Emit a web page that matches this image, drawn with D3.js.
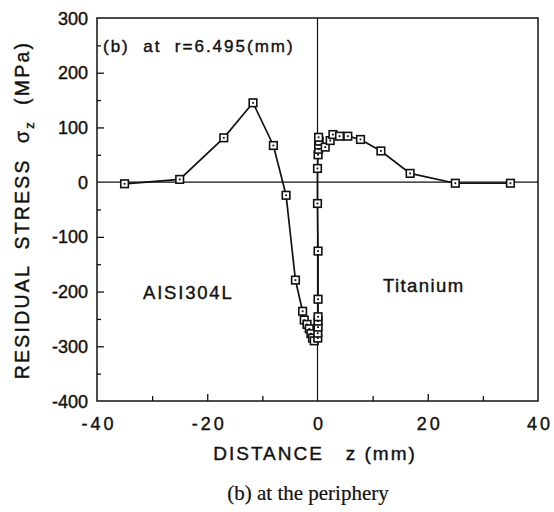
<!DOCTYPE html>
<html>
<head>
<meta charset="utf-8">
<script src="https://cdn.jsdelivr.net/npm/d3@7"></script>
<style>
  html, body { margin: 0; padding: 0; background: #fff; }
  svg { display: block; }
  text { font-family: "Liberation Sans", Arial, sans-serif; fill: #111; stroke: #111; stroke-width: 0.4px; }
</style>
</head>
<body>
<svg id="chart" width="554" height="512"></svg>
<script>
// ---- data ----
const steelZ = [-35, -25, -17, -11.7, -8, -5.7, -4, -2.7, -2.4, -1.9, -1.5, -1.2, -0.9, -0.6];
const steelS = [-3, 5, 81, 145, 67, -24, -179, -236, -252, -260, -268, -277, -285, -290];
const titaniumZ = [0.05, 0.05, 0.1, 0.1, 0.1, 0.1, 0.1, 0, 0, 0.1, 0.2, 0.2, 0.3, 0.2, 1.4, 2.3, 2.8, 4, 5.5, 7.8, 11.5, 16.8, 25, 35];
const titaniumS = [-285, -276, -265, -254, -246, -214, -126, -39, 25, 50, 60, 68, 75, 82, 64, 76, 87, 84, 84, 78, 57, 16, -2, -2];
const xTickLabels = [-40, -20, 0, 20, 40];
const xMinorTicks = [-30, -10, 10, 30];
const yTickLabels = [300, 200, 100, 0, -100, -200, -300, -400];
const yMinorTicks = [250, 150, 50, -50, -150, -250, -350];

const svg = d3.select("#chart");
const x = d3.scaleLinear().domain([-40, 40]).range([97, 538]);
const y = d3.scaleLinear().domain([-400, 300]).range([401, 18]);

// frame
svg.append("rect").attr("x", x(-40)).attr("y", y(300))
  .attr("width", x(40) - x(-40)).attr("height", y(-400) - y(300))
  .attr("fill", "none").attr("stroke", "#111").attr("stroke-width", 1.5);

// zero lines
svg.append("line").attr("x1", x(-40)).attr("x2", x(40)).attr("y1", y(0)).attr("y2", y(0))
  .attr("stroke", "#111").attr("stroke-width", 1.2);
svg.append("line").attr("x1", x(0)).attr("x2", x(0)).attr("y1", y(300)).attr("y2", y(-400))
  .attr("stroke", "#111").attr("stroke-width", 1.2);

// bottom axis (ticks inward)
const xAxis = d3.axisBottom(x).tickValues(xTickLabels.filter(d => d !== -40 && d !== 40 && d !== 0))
  .tickSize(-7).tickFormat("");
svg.append("g").attr("transform", `translate(0,${y(-400)})`).call(xAxis)
  .call(g => g.select(".domain").remove())
  .call(g => g.selectAll("line").attr("stroke", "#111").attr("stroke-width", 1.3));
const xMinor = d3.axisBottom(x).tickValues(xMinorTicks).tickSize(-5).tickFormat("");
svg.append("g").attr("transform", `translate(0,${y(-400)})`).call(xMinor)
  .call(g => g.select(".domain").remove())
  .call(g => g.selectAll("line").attr("stroke", "#111").attr("stroke-width", 1.3));
svg.append("g").selectAll("text").data(xTickLabels).join("text")
  .attr("x", d => x(d) + 2).attr("y", 430)
  .attr("text-anchor", "middle").attr("font-size", 18).attr("letter-spacing", 3)
  .text(d => d);

// left axis (ticks inward)
const yAxis = d3.axisLeft(y).tickValues(yTickLabels.filter(d => d !== 300 && d !== -400 && d !== 0))
  .tickSize(-7).tickFormat("");
svg.append("g").attr("transform", `translate(${x(-40)},0)`).call(yAxis)
  .call(g => g.select(".domain").remove())
  .call(g => g.selectAll("line").attr("stroke", "#111").attr("stroke-width", 1.3));
const yMinor = d3.axisLeft(y).tickValues(yMinorTicks).tickSize(-4).tickFormat("");
svg.append("g").attr("transform", `translate(${x(-40)},0)`).call(yMinor)
  .call(g => g.select(".domain").remove())
  .call(g => g.selectAll("line").attr("stroke", "#111").attr("stroke-width", 1.3));
svg.append("g").selectAll("text").data(yTickLabels).join("text")
  .attr("x", 88).attr("y", d => y(d) + 6.5)
  .attr("text-anchor", "end").attr("font-size", 18)
  .text(d => d);

// data line
const pts = steelZ.map((z, i) => [z, steelS[i]])
  .concat(titaniumZ.map((z, i) => [z, titaniumS[i]]));
svg.append("path").datum(pts)
  .attr("d", d3.line().x(d => x(d[0])).y(d => y(d[1])))
  .attr("fill", "none").attr("stroke", "#111").attr("stroke-width", 1.7);

// markers
const mk = svg.append("g").selectAll("g").data(pts).join("g")
  .attr("transform", d => `translate(${x(d[0])},${y(d[1])})`);
mk.append("rect").attr("x", -3.8).attr("y", -3.8).attr("width", 7.6).attr("height", 7.6)
  .attr("fill", "#fff").attr("stroke", "#111").attr("stroke-width", 1.6);
mk.append("rect").attr("x", -0.9).attr("y", -0.9).attr("width", 1.8).attr("height", 1.8)
  .attr("fill", "#111");

// annotations
svg.append("text").attr("x", 103).attr("y", 52).attr("font-size", 17)
  .style("white-space", "pre").attr("letter-spacing", 2)
  .text("(b)  at  r=6.495(mm)");
svg.append("text").attr("x", 143).attr("y", 299).attr("font-size", 18.5).attr("letter-spacing", 1.8)
  .text("AISI304L");
svg.append("text").attr("x", 383).attr("y", 292).attr("font-size", 18.5).attr("letter-spacing", 1.4)
  .text("Titanium");

// axis titles
svg.append("text").attr("x", 315).attr("y", 460).attr("text-anchor", "middle")
  .attr("font-size", 19).attr("letter-spacing", 2)
  .style("white-space", "pre")
  .text("DISTANCE   z (mm)");

const yl = svg.append("text").attr("transform", "translate(29,210) rotate(-90)")
  .attr("text-anchor", "middle").attr("font-size", 19.5).attr("letter-spacing", 2.2)
  .style("white-space", "pre");
yl.append("tspan").text("RESIDUAL  STRESS  σ");
yl.append("tspan").attr("font-size", 13).attr("dy", 5).text("z");
yl.append("tspan").attr("dy", -5).text("  (MPa)");

// caption
svg.append("text").attr("x", 308).attr("y", 500).attr("text-anchor", "middle")
  .attr("font-size", 21).style("font-family", "'Liberation Serif', 'Times New Roman', serif")
  .style("stroke-width", "0.2px")
  .text("(b) at the periphery");
</script>
</body>
</html>
